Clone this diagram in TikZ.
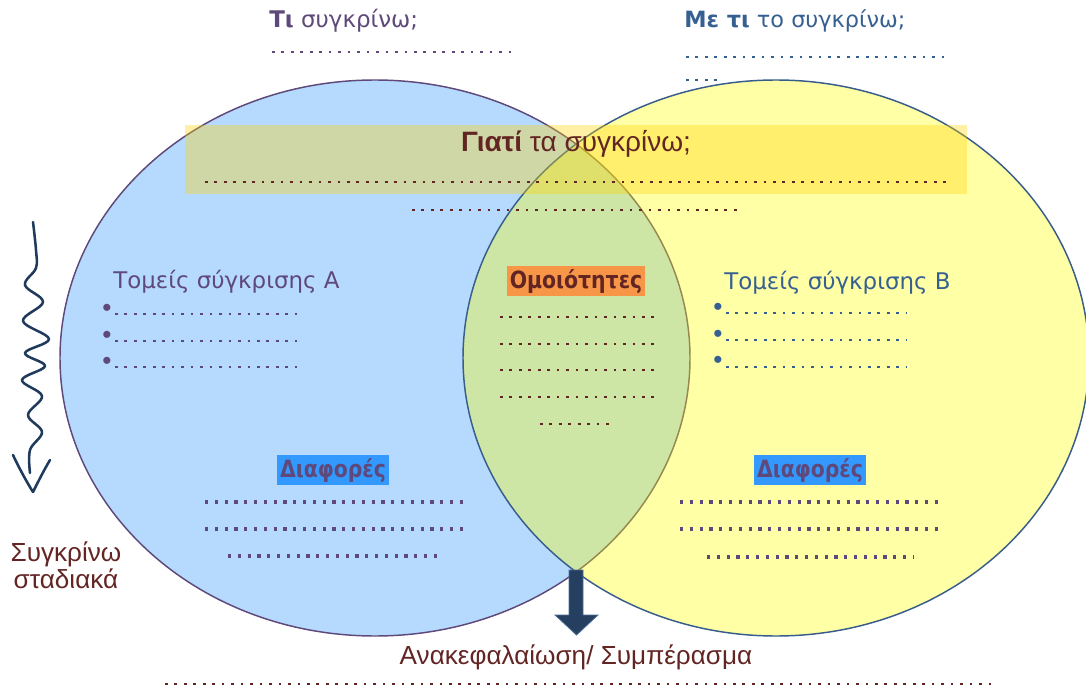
\documentclass[tikz,border=0pt]{standalone}
\usepackage{fontspec}
\setmainfont{Liberation Sans}
\newfontfamily\dejavu{DejaVu Sans}
\newfontfamily\dejavucond{DejaVu Sans}[FakeStretch=0.86]
\usepackage{tikz}

\begin{document}
\begin{tikzpicture}[x=0.75pt,y=0.75pt,yscale=-1,xscale=1,
  purp/.style={color={rgb, 255:red, 95; green, 73; blue, 122 }},
  blu/.style={color={rgb, 255:red, 55; green, 96; blue, 146 }},
  dred/.style={color={rgb, 255:red, 99; green, 37; blue, 35 }},
  dotrow/.style={line width=2pt, dash pattern=on 2pt off 5.1pt},
  bigdots/.style={line width=2.4pt, dash pattern=on 2.4pt off 4.95pt},
  heading/.style={font={\dejavu\fontsize{17.2}{20}\selectfont}},
  plain/.style={font={\fontsize{19.6}{23}\selectfont}},
  tag/.style={font={\dejavucond\bfseries\fontsize{17.8}{20}\selectfont}, inner xsep=2pt, inner ysep=0pt, minimum height=22pt}
]
\useasboundingbox (0,0) rectangle (1086,688);

%Shape: Ellipse A
\draw  [color={rgb, 255:red, 95; green, 73; blue, 122 }  ,line width=1.1 ][fill={rgb, 255:red, 181; green, 218; blue, 254 }  ,fill opacity=1 ] (60,358) .. controls (60,204.46) and (201.03,80) .. (375,80) .. controls (548.97,80) and (690,204.46) .. (690,358) .. controls (690,511.54) and (548.97,636) .. (375,636) .. controls (201.03,636) and (60,511.54) .. (60,358) -- cycle ;
%Shape: Ellipse B
\draw  [color={rgb, 255:red, 56; green, 93; blue, 138 }  ,line width=1.1 ][fill={rgb, 255:red, 255; green, 255; blue, 0 }  ,fill opacity=0.35 ] (463,358) .. controls (463,204.46) and (603.13,80) .. (776,80) .. controls (948.87,80) and (1089,204.46) .. (1089,358) .. controls (1089,511.54) and (948.87,636) .. (776,636) .. controls (603.13,636) and (463,511.54) .. (463,358) -- cycle ;
%Shape: Rectangle
\fill  [color={rgb, 255:red, 255; green, 212; blue, 0 }  ,fill opacity=0.35 ] (185,125) rectangle (967,194) ;

%Curve Lines
\draw [color={rgb, 255:red, 31; green, 58; blue, 90 }  ,line width=1.9 ,line cap=round ,line join=round ] plot [smooth, tension=0.6] coordinates {(33,222) (36,250) (36,268) (25,285) (43,302) (23,321) (49,339) (25,353) (45,366) (22,380) (42,396) (28,415) (42,432) (30,450) (30,473)} ;
\draw [color={rgb, 255:red, 31; green, 58; blue, 90 }  ,line width=1.9 ,line cap=round ,line join=round ] (13,455) .. controls (20,470) and (28,484) .. (33,492) .. controls (38,482) and (44,470) .. (50,460) ;

%Down Arrow
\draw  [color={rgb, 255:red, 79; green, 110; blue, 150 }  ,line width=0.6 ][fill={rgb, 255:red, 36; green, 63; blue, 96 }  ,fill opacity=1 ] (569,570) -- (583,570) -- (583,615) -- (598,615) -- (576.5,635) -- (555,615) -- (569,615) -- cycle ;

% Text Node
\draw (268,28) node (ti) [anchor=base west][inner sep=0.75pt]  [heading,purp]  {\textbf{Τι} συγκρίνω;};
\draw [purp, dotrow] (272,52) -- (516,52) ;
% Text Node
\draw (683,28) node (meti) [anchor=base west][inner sep=0.75pt]  [heading,blu,font=\dejavu\fontsize{16.8}{20}\selectfont]  {\textbf{Με τι} το συγκρίνω;};
\draw [blu, dotrow] (686,57) -- (944,57) ;
\draw [blu, dotrow] (686,80) -- (717,80) ;

% Text Node
\draw (576,152) node (giati) [anchor=base][inner sep=0.75pt]  [plain,dred,font=\fontsize{21}{24}\selectfont]  {\textbf{Γιατί} τα συγκρίνω;};
\draw [dred, dotrow] (205,182) -- (950,182) ;
\draw [dred, dotrow] (412,210) -- (740,210) ;

% Text Node
\draw (112,289) node (tomA) [anchor=base west][inner sep=0.75pt]  [heading,purp]  {Τομείς σύγκρισης Α};
\draw (107,310) node (bA1) [inner sep=0pt]  [plain,purp]  {•};
\draw (107,337) node (bA2) [inner sep=0pt]  [plain,purp]  {•};
\draw (107,363) node (bA3) [inner sep=0pt]  [plain,purp]  {•};
\draw [purp, dotrow] (115,314) -- (297,314) ;
\draw [purp, dotrow] (115,341) -- (297,341) ;
\draw [purp, dotrow] (115,367) -- (297,367) ;

% Text Node
\draw (723,290) node (tomB) [anchor=base west][inner sep=0.75pt]  [heading,blu]  {Τομείς σύγκρισης Β};
\draw (718,309) node (bB1) [inner sep=0pt]  [plain,blu]  {•};
\draw (718,336) node (bB2) [inner sep=0pt]  [plain,blu]  {•};
\draw (718,362) node (bB3) [inner sep=0pt]  [plain,blu]  {•};
\draw [blu, dotrow] (726,313) -- (906,313) ;
\draw [blu, dotrow] (726,340) -- (906,340) ;
\draw [blu, dotrow] (726,367) -- (906,367) ;

% Text Node
\draw (576,281) node (omoi) [tag,dred]  [fill={rgb, 255:red, 247; green, 150; blue, 70 }]  {Ομοιότητες};
\draw [dred, dotrow] (500,317) -- (655,317) ;
\draw [dred, dotrow] (500,344) -- (655,344) ;
\draw [dred, dotrow] (500,370) -- (655,370) ;
\draw [dred, dotrow] (500,397) -- (655,397) ;
\draw [dred, dotrow] (540,424) -- (615,424) ;

% Text Node
\draw (333,470) node (diafA) [tag,purp]  [fill={rgb, 255:red, 51; green, 153; blue, 255 }]  {Διαφορές};
\draw [purp, bigdots] (205,502) -- (465,502) ;
\draw [purp, bigdots] (205,529) -- (465,529) ;
\draw [purp, bigdots] (228,556) -- (442,556) ;
% Text Node
\draw (810,470) node (diafB) [tag,purp]  [fill={rgb, 255:red, 51; green, 153; blue, 255 }]  {Διαφορές};
\draw [purp, bigdots] (680,502) -- (942,502) ;
\draw [purp, bigdots] (680,529) -- (942,529) ;
\draw [purp, bigdots] (707,557) -- (914,557) ;

% Text Node
\draw (66,561) node (syg) [anchor=base][inner sep=0.75pt]  [plain,dred]  {Συγκρίνω};
\draw (66,588) node (stad) [anchor=base][inner sep=0.75pt]  [plain,dred]  {σταδιακά};

% Text Node
\draw (576,664) node (anak) [anchor=base][inner sep=0.75pt]  [plain,dred]  {Ανακεφαλαίωση/ Συμπέρασμα};
\draw [dred, dotrow] (165,684) -- (994,684) ;
\end{tikzpicture}
\end{document}
